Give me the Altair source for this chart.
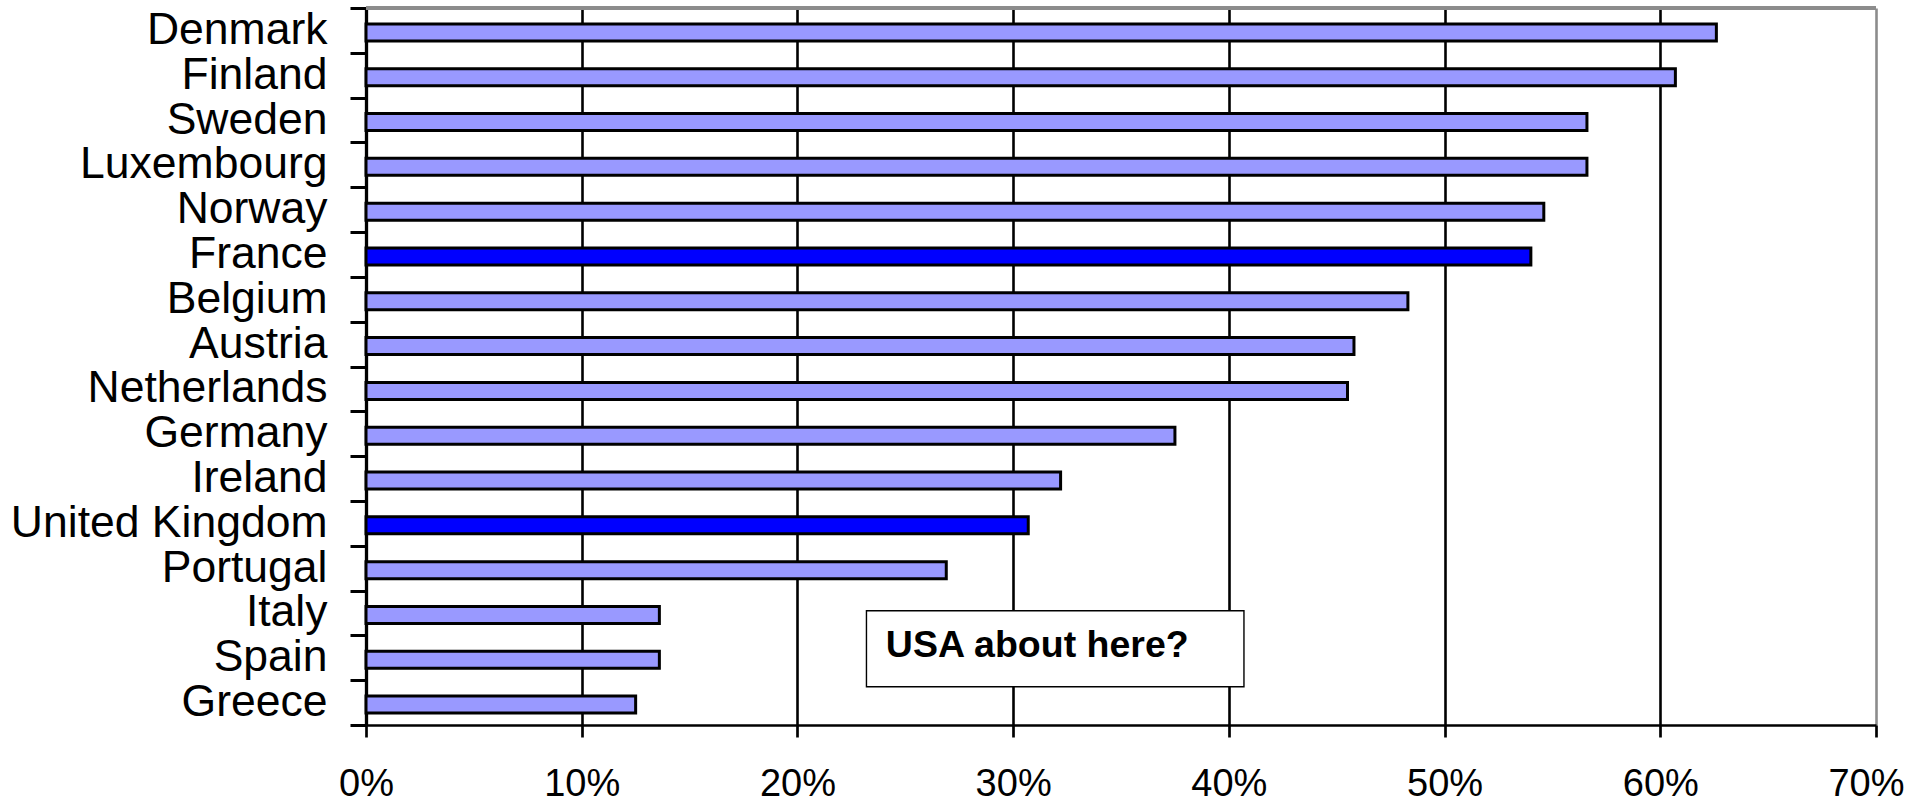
import altair as alt
import pandas as pd

# Share by country, top to bottom
countries = [
    "Denmark", "Finland", "Sweden", "Luxembourg", "Norway", "France",
    "Belgium", "Austria", "Netherlands", "Germany", "Ireland",
    "United Kingdom", "Portugal", "Italy", "Spain", "Greece",
]
shares = [
    0.626, 0.607, 0.566, 0.566, 0.546, 0.540,
    0.483, 0.458, 0.455, 0.375, 0.322,
    0.307, 0.269, 0.136, 0.136, 0.125,
]
highlighted = ["France", "United Kingdom"]
x_ticks = [0.0, 0.1, 0.2, 0.3, 0.4, 0.5, 0.6, 0.7]

df = pd.DataFrame({"country": countries, "share": shares})
df["group"] = ["focus" if c in highlighted else "other" for c in countries]

# Callout box sitting over the lower rows
note = pd.DataFrame({
    "label": ["USA about here?"],
    "x0": [0.232],
    "x1": [0.407],
    "tx": [0.241],
    "country": ["Spain"],
})

FONT = "Liberation Sans"

y_enc = alt.Y(
    "country:N",
    sort=countries,
    scale=alt.Scale(paddingInner=0, paddingOuter=0),
    axis=alt.Axis(
        title=None,
        tickBand="extent",
        tickSize=16,
        tickWidth=3,
        tickColor="black",
        domainColor="black",
        domainWidth=3.3,
        labelFont=FONT,
        labelFontSize=44.5,
        labelColor="black",
        labelPadding=23,
        labelLimit=500,
        grid=False,
    ),
)

x_axis = alt.Axis(
    title=None,
    values=x_ticks,
    format=".0%",
    tickSize=12,
    tickWidth=2.7,
    tickColor="black",
    domainColor="black",
    domainWidth=2.7,
    labelFont=FONT,
    labelFontSize=38,
    labelColor="black",
    labelPadding=28,
    labelFlush=False,
    labelOverlap=False,
    labelOffset={"condition": {"test": "datum.value >= 0.69", "value": -10}, "value": 0},
    grid=True,
    gridWidth=2.6,
    gridColor={"condition": {"test": "datum.value >= 0.69", "value": "#8c8c8c"}, "value": "black"},
)
x_scale = alt.Scale(domain=[0, 0.7], nice=False)

bars = alt.Chart(df).mark_bar(
    size=17, yOffset=2, stroke="black", strokeWidth=3
).encode(
    x=alt.X("share:Q", scale=x_scale, axis=x_axis),
    y=y_enc,
    color=alt.Color(
        "group:N",
        scale=alt.Scale(domain=["focus", "other"], range=["#0000FF", "#9999FF"]),
        legend=None,
    ),
)

top_border = alt.Chart(df).mark_rule(color="#8c8c8c", strokeWidth=3).encode(
    x=alt.value(0), x2=alt.value(1510), y=alt.value(0)
)

box = alt.Chart(note).mark_bar(
    size=76, yOffset=-9, fill="white", stroke="black", strokeWidth=1.4
).encode(
    x=alt.X("x0:Q", scale=x_scale, axis=x_axis),
    x2="x1:Q",
    y=y_enc,
)

label = alt.Chart(note).mark_text(
    align="left", baseline="middle", font=FONT, fontSize=37.5,
    fontWeight="bold", color="black", yOffset=-12
).encode(
    x=alt.X("tx:Q", scale=x_scale, axis=x_axis),
    y=y_enc,
    text="label:N",
)

chart = alt.layer(top_border, bars, box, label).properties(
    width=1510,
    height=717,
    autosize=alt.AutoSizeParams(type="none"),
    padding={"left": 366, "top": 8, "right": 30, "bottom": 78},
    background="white",
).configure_view(stroke=None)

chart.save("out.html", embed_options={"renderer": "svg", "actions": False})
